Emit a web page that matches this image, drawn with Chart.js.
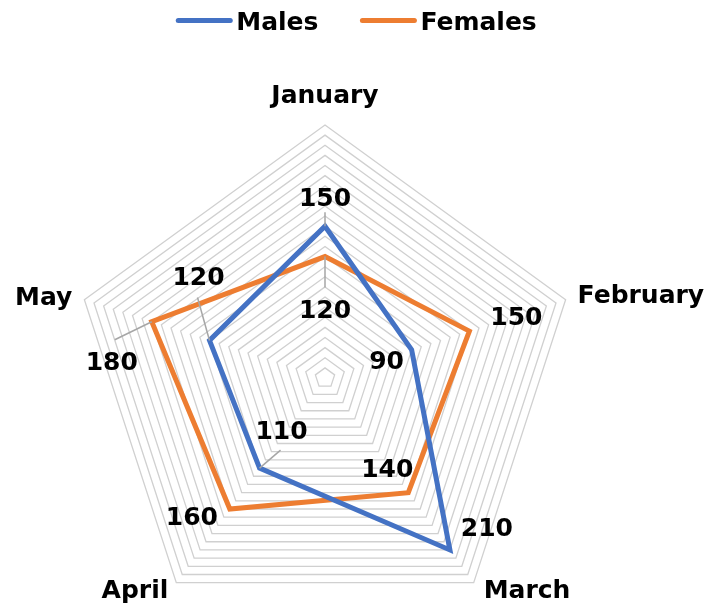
<!DOCTYPE html>
<html>
<head>
<meta charset="utf-8">
<script src="https://cdn.jsdelivr.net/npm/chart.js@4/dist/chart.umd.min.js"></script>
<style>
  html, body { margin: 0; padding: 0; background: #fff; overflow: hidden; }
  canvas { display: block; }
</style>
</head>
<body>
<canvas id="chartCanvas" width="713" height="631"></canvas>
<script>
const months = ["January", "February", "March", "April", "May"];
const males = [150, 90, 210, 110, 120];
const females = [120, 150, 140, 160, 180];

const MALE_COLOR = "#4472C4";
const FEMALE_COLOR = "#ED7D31";
const FONT = "bold 25px 'DejaVu Sans', Verdana, sans-serif";

// month label placement around each outer vertex: [align, dx, baseline dy]
const monthLabelPlace = [["center", 0, -22], ["left", 12, 3], ["left", 10, 15], ["right", -8, 15], ["right", -12, 5]];

// value label offsets from each point: [dx, dy, leader end dx, leader end dy]
const maleLabelPlace = [[0, -29, 0, -14], [-25, 10], [37, -23], [22, -38, 21, -18], [-11, -64, -12, -43]];
const femaleLabelPlace = [[0, 52, 0, 31], [47, -15], [-21, -25], [-38, 7], [-40, 39, -37, 18]];

const radarLabels = {
  id: "radarLabels",
  afterDatasetsDraw(chart) {
    const ctx = chart.ctx;
    const scale = chart.scales.r;
    ctx.save();
    ctx.font = FONT;
    ctx.fillStyle = "#000";
    ctx.textBaseline = "alphabetic";

    // month names
    months.forEach((m, i) => {
      const p = scale.getPointPosition(i, scale.drawingArea);
      const [align, dx, dy] = monthLabelPlace[i];
      ctx.textAlign = align;
      ctx.fillText(m, p.x + dx, p.y + dy);
    });

    // value labels with leader lines
    ctx.textAlign = "center";
    chart.data.datasets.forEach((ds, di) => {
      const place = di === 0 ? maleLabelPlace : femaleLabelPlace;
      chart.getDatasetMeta(di).data.forEach((pt, i) => {
        const [dx, dy, lx, ly] = place[i];
        if (lx !== undefined) {
          ctx.beginPath();
          ctx.strokeStyle = "#a6a6a6";
          ctx.lineWidth = 1.5;
          ctx.moveTo(pt.x, pt.y);
          ctx.lineTo(pt.x + lx, pt.y + ly);
          ctx.stroke();
        }
        ctx.fillText(String(ds.data[i]), pt.x + dx, pt.y + dy + 9);
      });
    });
    ctx.restore();
  },
};

const topLegend = {
  id: "topLegend",
  afterDraw(chart) {
    const ctx = chart.ctx;
    ctx.save();
    ctx.font = FONT;
    ctx.textAlign = "left";
    ctx.textBaseline = "alphabetic";
    const items = chart.data.datasets.map((ds) => ({ text: ds.label, color: ds.borderColor, w: ctx.measureText(ds.label).width }));
    const lineLen = 56, gap = 4, itemGap = 42;
    const total = items.reduce((a, it) => a + lineLen + gap + it.w, 0) + itemGap * (items.length - 1);
    let x = chart.width / 2 - total / 2;
    items.forEach((it) => {
      ctx.beginPath();
      ctx.strokeStyle = it.color;
      ctx.lineWidth = 5;
      ctx.lineCap = "round";
      ctx.moveTo(x + 2, 20.5);
      ctx.lineTo(x + lineLen - 2, 20.5);
      ctx.stroke();
      ctx.fillStyle = "#000";
      ctx.fillText(it.text, x + lineLen + gap, 30);
      x += lineLen + gap + it.w + itemGap;
    });
    ctx.restore();
  },
};

let chart = new Chart(document.getElementById("chartCanvas"), {
  type: "radar",
  data: {
    labels: months,
    datasets: [
      {
        label: "Males",
        data: males,
        borderColor: MALE_COLOR,
        backgroundColor: MALE_COLOR,
        borderWidth: 5,
        borderJoinStyle: "miter",
        fill: false,
        pointRadius: 0,
      },
      {
        label: "Females",
        data: females,
        borderColor: FEMALE_COLOR,
        backgroundColor: FEMALE_COLOR,
        borderWidth: 5,
        borderJoinStyle: "miter",
        fill: false,
        pointRadius: 0,
      },
    ],
  },
  options: {
    responsive: false,
    animation: false,
    layout: { padding: { top: 125, bottom: 0, left: 72, right: 135 } },
    plugins: {
      tooltip: { enabled: false },
      legend: { display: false },
    },
    scales: {
      r: {
        min: 0,
        max: 250,
        ticks: { stepSize: 10, display: false },
        grid: { color: "#d0d0d0", lineWidth: 1.3 },
        angleLines: { display: false },
        pointLabels: { display: false },
      },
    },
  },
  plugins: [radarLabels, topLegend],
});
</script>
</body>
</html>
